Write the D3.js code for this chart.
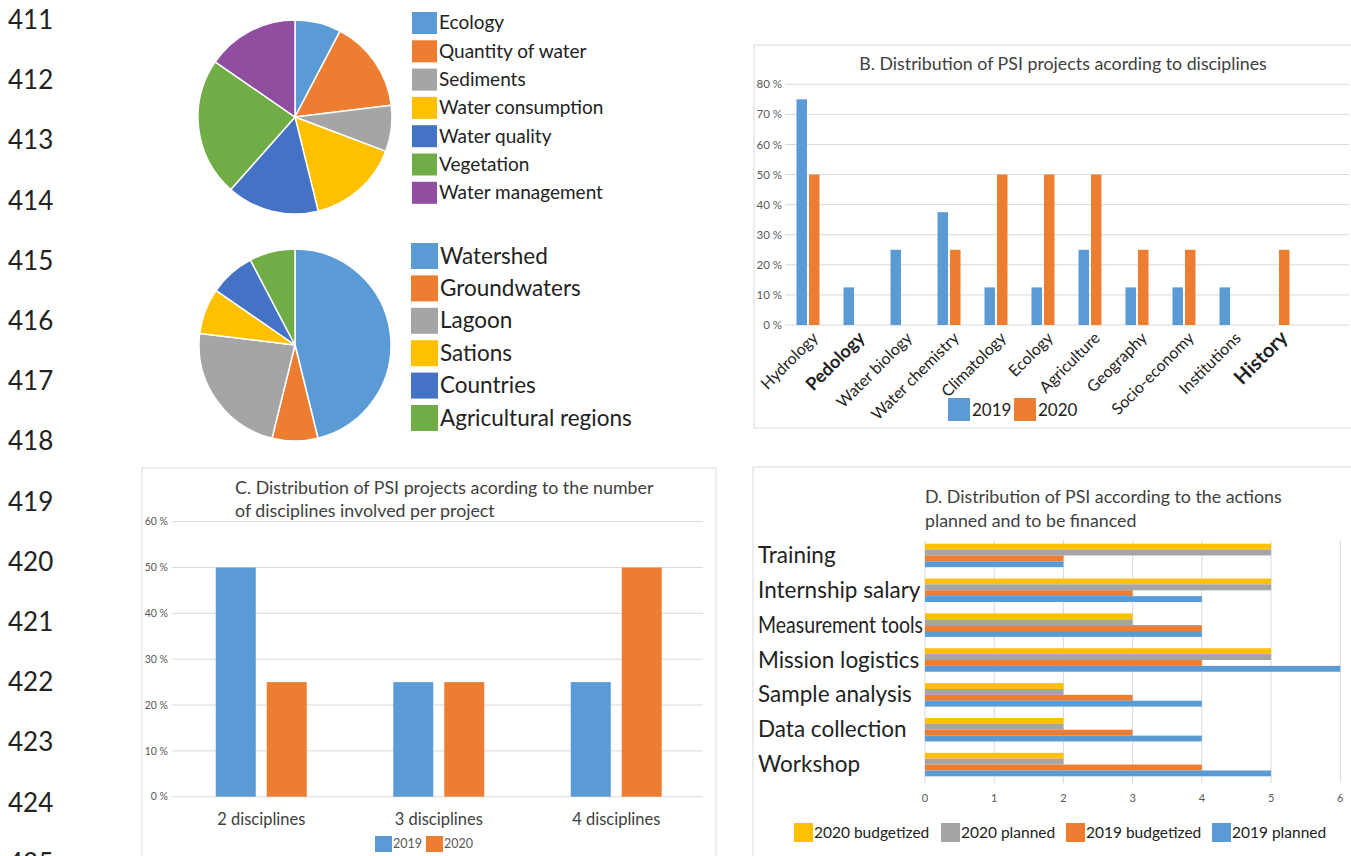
<!DOCTYPE html>
<html lang="en">
<head>
<meta charset="UTF-8">
<title>PSI projects</title>
<script src="https://cdn.jsdelivr.net/npm/d3@7"></script>
<style>
  body { margin: 0; background: #fff; }
  svg { display: block; font-family: Lato, "Open Sans", sans-serif; }
</style>
</head>
<body>
<svg id="chart" width="1351" height="856"></svg>
<script>
// manuscript line numbers down the left margin
const lineNumbers = [411, 412, 413, 414, 415, 416, 417, 418, 419, 420, 421, 422, 423, 424, 425];

// pie 1: themes
const themes = ["Ecology", "Quantity of water", "Sediments", "Water consumption", "Water quality", "Vegetation", "Water management"];
const themeCounts = [1, 2, 1, 2, 2, 3, 2];
const themeColors = ["#5B9BD5", "#ED7D31", "#A5A5A5", "#FFC000", "#4472C4", "#70AD47", "#904EA0"];

// pie 2: scales of study
const scalesOfStudy = ["Watershed", "Groundwaters", "Lagoon", "Sations", "Countries", "Agricultural regions"];
const scaleCounts = [6, 1, 3, 1, 1, 1];
const scaleColors = ["#5B9BD5", "#ED7D31", "#A5A5A5", "#FFC000", "#4472C4", "#70AD47"];

// B: disciplines
const disciplines = ["Hydrology", "Pedology", "Water biology", "Water chemistry", "Climatology", "Ecology",
  "Agriculture", "Geography", "Socio-economy", "Institutions", "History"];
const disc2019 = [75, 12.5, 25, 37.5, 12.5, 12.5, 25, 12.5, 12.5, 12.5, 0];
const disc2020 = [50, 0, 0, 25, 50, 50, 50, 25, 25, 0, 25];
const discTicks = [0, 10, 20, 30, 40, 50, 60, 70, 80];

// C: number of disciplines per project
const nbDisc = ["2 disciplines", "3 disciplines", "4 disciplines"];
const nb2019 = [50, 25, 25];
const nb2020 = [25, 25, 50];
const nbTicks = [0, 10, 20, 30, 40, 50, 60];

// D: actions
const actions = ["Training", "Internship salary", "Measurement tools", "Mission logistics", "Sample analysis", "Data collection", "Workshop"];
const actionSeries = ["2020 budgetized", "2020 planned", "2019 budgetized", "2019 planned"];
const budget2020 = [5, 5, 3, 5, 2, 2, 2];
const planned2020 = [5, 5, 3, 5, 2, 2, 2];
const budget2019 = [2, 3, 4, 4, 3, 3, 4];
const planned2019 = [2, 4, 4, 6, 4, 4, 5];
const actionTicks = [0, 1, 2, 3, 4, 5, 6];

const blue = "#5B9BD5", orange = "#ED7D31", gray = "#A5A5A5", yellow = "#FFC000";
const grid = "#D9D9D9", axisText = "#595959", darkText = "#404040";
const titleSize = 17.8;

const svg = d3.select("#chart");

// line numbers
svg.append("g").selectAll("text")
  .data(lineNumbers)
  .join("text")
  .attr("x", 8)
  .attr("y", (d, i) => 20 + i * 60.2 + 9)
  .attr("font-size", 26)
  .attr("fill", "#222")
  .text(d => d);

// ---------- pies ----------
function drawPie(labels, counts, colors, cx, cy, r, leg) {
  const pie = d3.pie().sort(null).value(d => d)(counts);
  const arc = d3.arc().innerRadius(0).outerRadius(r);
  svg.append("g")
    .attr("transform", `translate(${cx},${cy})`)
    .selectAll("path")
    .data(pie)
    .join("path")
    .attr("d", arc)
    .attr("fill", (d, i) => colors[i])
    .attr("stroke", "#fff")
    .attr("stroke-width", 1.5);

  const g = svg.append("g");
  labels.forEach((lab, i) => {
    const yc = leg.y0 + i * leg.step;
    g.append("rect")
      .attr("x", leg.x).attr("y", yc - leg.h / 2)
      .attr("width", leg.w).attr("height", leg.h)
      .attr("fill", colors[i]);
    g.append("text")
      .attr("x", leg.x + leg.w + 2)
      .attr("y", yc + leg.fs * 0.34)
      .attr("font-size", leg.fs)
      .attr("fill", "#222")
      .text(lab);
  });
}

drawPie(themes, themeCounts, themeColors, 295, 117, 97,
  { x: 412, y0: 23, step: 28.3, w: 25, h: 22, fs: 19 });
drawPie(scalesOfStudy, scaleCounts, scaleColors, 295, 345, 96,
  { x: 411, y0: 256, step: 32.4, w: 27, h: 26, fs: 22.5 });

// ---------- B ----------
{
  svg.append("rect")
    .attr("x", 754).attr("y", 45).attr("width", 700).attr("height", 383)
    .attr("fill", "none").attr("stroke", grid);

  const y = d3.scaleLinear().domain([0, 80]).range([325, 84.3]);
  const x = d3.scaleBand().domain(disciplines).range([784.5, 1301.5]);

  svg.append("g").selectAll("line")
    .data(discTicks).join("line")
    .attr("x1", 785).attr("x2", 1349)
    .attr("y1", d => y(d)).attr("y2", d => y(d))
    .attr("stroke", grid);

  svg.append("g").selectAll("text")
    .data(discTicks).join("text")
    .attr("x", 782).attr("y", d => y(d)).attr("dy", "0.35em")
    .attr("text-anchor", "end").attr("font-size", 11.5).attr("fill", axisText)
    .text(d => d + " %");

  const cx = d => x(d) + x.bandwidth() / 2;
  const bars = svg.append("g");
  bars.selectAll(".b19").data(disciplines).join("rect")
    .attr("x", d => cx(d) - 11.5).attr("width", 10.5)
    .attr("y", (d, i) => y(disc2019[i])).attr("height", (d, i) => y(0) - y(disc2019[i]))
    .attr("fill", blue);
  bars.selectAll(".b20").data(disciplines).join("rect")
    .attr("x", d => cx(d) + 1).attr("width", 10.5)
    .attr("y", (d, i) => y(disc2020[i])).attr("height", (d, i) => y(0) - y(disc2020[i]))
    .attr("fill", orange);

  svg.append("g").selectAll("text")
    .data(disciplines).join("text")
    .attr("transform", d => `translate(${cx(d) + 11},339) rotate(-45)`)
    .attr("text-anchor", "end")
    .attr("font-size", d => d === "History" ? 20 : d === "Pedology" ? 18 : 16)
    .attr("font-weight", d => (d === "History" || d === "Pedology") ? "bold" : "normal")
    .attr("fill", "#222")
    .text(d => d);

  svg.append("text")
    .attr("x", 1063).attr("y", 70).attr("text-anchor", "middle")
    .attr("font-size", titleSize).attr("fill", darkText)
    .text("B. Distribution of PSI projects acording to disciplines");

  const leg = [["2019", blue, 948], ["2020", orange, 1014]];
  leg.forEach(([t, c, lx]) => {
    svg.append("rect").attr("x", lx).attr("y", 398).attr("width", 22).attr("height", 23).attr("fill", c);
    svg.append("text").attr("x", lx + 24).attr("y", 416).attr("font-size", 17).attr("fill", "#222").text(t);
  });
}

// ---------- C ----------
{
  svg.append("rect")
    .attr("x", 142).attr("y", 468).attr("width", 574).attr("height", 420)
    .attr("fill", "none").attr("stroke", grid);

  const y = d3.scaleLinear().domain([0, 60]).range([796.7, 521.7]);
  const x = d3.scaleBand().domain(nbDisc).range([172.5, 705]);

  svg.append("g").selectAll("line")
    .data(nbTicks).join("line")
    .attr("x1", 172).attr("x2", 703)
    .attr("y1", d => y(d)).attr("y2", d => y(d))
    .attr("stroke", grid);

  svg.append("g").selectAll("text")
    .data(nbTicks).join("text")
    .attr("x", 168).attr("y", d => y(d)).attr("dy", "0.35em")
    .attr("text-anchor", "end").attr("font-size", 10.5).attr("fill", axisText)
    .text(d => d + " %");

  const cx = d => x(d) + x.bandwidth() / 2;
  const bars = svg.append("g");
  bars.selectAll(".c19").data(nbDisc).join("rect")
    .attr("x", d => cx(d) - 45.5).attr("width", 40)
    .attr("y", (d, i) => y(nb2019[i])).attr("height", (d, i) => y(0) - y(nb2019[i]))
    .attr("fill", blue);
  bars.selectAll(".c20").data(nbDisc).join("rect")
    .attr("x", d => cx(d) + 5.5).attr("width", 40)
    .attr("y", (d, i) => y(nb2020[i])).attr("height", (d, i) => y(0) - y(nb2020[i]))
    .attr("fill", orange);

  svg.append("g").selectAll("text")
    .data(nbDisc).join("text")
    .attr("x", d => cx(d)).attr("y", 825)
    .attr("text-anchor", "middle").attr("font-size", 16.5).attr("fill", darkText)
    .text(d => d);

  const title = svg.append("text").attr("font-size", titleSize).attr("fill", darkText);
  title.append("tspan").attr("x", 235).attr("y", 494).text("C. Distribution of PSI projects acording to the number");
  title.append("tspan").attr("x", 235).attr("y", 517).text("of disciplines involved per project");

  const leg = [["2019", blue, 375], ["2020", orange, 426]];
  leg.forEach(([t, c, lx]) => {
    svg.append("rect").attr("x", lx).attr("y", 836).attr("width", 17).attr("height", 16).attr("fill", c);
    svg.append("text").attr("x", lx + 18).attr("y", 848).attr("font-size", 12.5).attr("fill", axisText).text(t);
  });
}

// ---------- D ----------
{
  svg.append("rect")
    .attr("x", 753).attr("y", 467).attr("width", 700).attr("height", 420)
    .attr("fill", "none").attr("stroke", grid);

  const x = d3.scaleLinear().domain([0, 6]).range([925, 1340.3]);
  const y = d3.scaleBand().domain(actions).range([538, 782]);
  const groupH = 23.5;
  const inner = d3.scaleBand().domain(actionSeries).range([0, groupH]);
  const seriesVals = [budget2020, planned2020, budget2019, planned2019];
  const seriesCols = [yellow, gray, orange, blue];

  svg.append("g").selectAll("line")
    .data(actionTicks).join("line")
    .attr("x1", d => x(d)).attr("x2", d => x(d))
    .attr("y1", 540).attr("y2", 783)
    .attr("stroke", grid);

  svg.append("g").selectAll("text")
    .data(actionTicks).join("text")
    .attr("x", d => x(d)).attr("y", 802)
    .attr("text-anchor", "middle").attr("font-size", 11).attr("fill", axisText)
    .text(d => d);

  const off = (y.bandwidth() - groupH) / 2;
  actionSeries.forEach((s, k) => {
    svg.append("g").selectAll("rect")
      .data(actions).join("rect")
      .attr("x", x(0))
      .attr("y", d => y(d) + off + inner(s))
      .attr("width", (d, i) => x(seriesVals[k][i]) - x(0))
      .attr("height", inner.bandwidth())
      .attr("fill", seriesCols[k]);
  });

  // category labels: squeeze the long ones so they stop at the bars
  const maxLabel = x(0) - 760;
  svg.append("g").selectAll("text")
    .data(actions).join("text")
    .attr("x", 758)
    .attr("y", d => y(d) + y.bandwidth() / 2 + 7.5)
    .attr("font-size", 22.5).attr("fill", "#222")
    .text(d => d)
    .each(function () {
      if (this.getComputedTextLength() > maxLabel) {
        d3.select(this).attr("textLength", maxLabel).attr("lengthAdjust", "spacingAndGlyphs");
      }
    });

  const title = svg.append("text").attr("font-size", titleSize).attr("fill", darkText);
  title.append("tspan").attr("x", 925).attr("y", 503).text("D. Distribution of PSI according to the actions");
  title.append("tspan").attr("x", 925).attr("y", 527).text("planned and to be financed");

  const legX = [794, 941, 1066, 1212];
  actionSeries.forEach((s, k) => {
    svg.append("rect").attr("x", legX[k]).attr("y", 823).attr("width", 19).attr("height", 19).attr("fill", seriesCols[k]);
    svg.append("text").attr("x", legX[k] + 20).attr("y", 838).attr("font-size", 15.5).attr("fill", "#222").text(s);
  });
}
</script>
</body>
</html>
